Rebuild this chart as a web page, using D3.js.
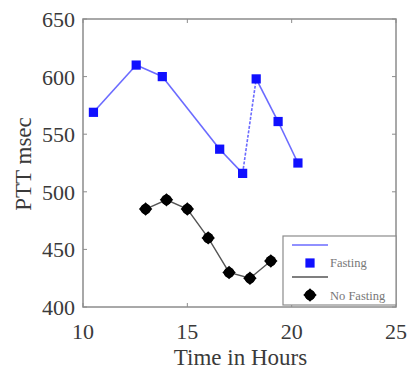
<!DOCTYPE html>
<html>
<head>
<meta charset="utf-8">
<script src="https://cdn.jsdelivr.net/npm/d3@7"></script>
<style>
  html, body { margin: 0; padding: 0; background: #fff; }
  svg { display: block; }
</style>
</head>
<body>
<svg id="chart" width="410" height="374"></svg>
<script>
// Pulse transit time over the day, fasting vs. non-fasting
const fastingHours = [10.5, 12.55, 13.8, 16.55, 17.65, 18.3, 19.35, 20.3];
const fastingPTT   = [569, 610, 600, 537, 516, 598, 561, 525];
const noFastHours  = [13, 14, 15, 16, 17, 18, 19];
const noFastPTT    = [485, 493, 485, 460, 430, 425, 440];
const xTicks = [10, 15, 20, 25];
const yTicks = [400, 450, 500, 550, 600, 650];
const seriesNames = ["Fasting", "No Fasting"];

const svg = d3.select("#chart");
const plotL = 83, plotR = 396, plotT = 19, plotB = 307;

const x = d3.scaleLinear().domain([10, 25]).range([plotL, plotR]);
const y = d3.scaleLinear().domain([400, 650]).range([plotB, plotT]);

const font = "'Liberation Serif', 'Times New Roman', serif";
const axisColor = "#8c8c8c";
const textColor = "#3a3a3a";
const blueLine = "#6b6bff";

// Box with inward ticks on all four sides
const tickLen = 4;
const axisG = svg.append("g");
axisG.append("rect")
  .attr("x", plotL).attr("y", plotT)
  .attr("width", plotR - plotL).attr("height", plotB - plotT)
  .attr("fill", "none").attr("stroke", axisColor).attr("stroke-width", 1.5);

xTicks.forEach(t => {
  axisG.append("line").attr("x1", x(t)).attr("x2", x(t))
    .attr("y1", plotB).attr("y2", plotB - tickLen)
    .attr("stroke", axisColor).attr("stroke-width", 1);
  axisG.append("line").attr("x1", x(t)).attr("x2", x(t))
    .attr("y1", plotT).attr("y2", plotT + tickLen)
    .attr("stroke", axisColor).attr("stroke-width", 1);
  axisG.append("text").attr("x", x(t)).attr("y", plotB + 32)
    .attr("text-anchor", "middle")
    .attr("font-family", font).attr("font-size", 22)
    .attr("fill", textColor).text(t);
});

yTicks.forEach(t => {
  axisG.append("line").attr("x1", plotL).attr("x2", plotL + tickLen)
    .attr("y1", y(t)).attr("y2", y(t))
    .attr("stroke", axisColor).attr("stroke-width", 1);
  axisG.append("line").attr("x1", plotR).attr("x2", plotR - tickLen)
    .attr("y1", y(t)).attr("y2", y(t))
    .attr("stroke", axisColor).attr("stroke-width", 1);
  axisG.append("text").attr("x", plotL - 8).attr("y", y(t) + 8)
    .attr("text-anchor", "end")
    .attr("font-family", font).attr("font-size", 22)
    .attr("fill", textColor).text(t);
});

svg.append("text")
  .attr("x", (plotL + plotR) / 2 + 1).attr("y", 365)
  .attr("text-anchor", "middle")
  .attr("font-family", font).attr("font-size", 23)
  .attr("fill", textColor).text("Time in Hours");

svg.append("text")
  .attr("transform", `translate(31, ${(plotT + plotB) / 2 + 1}) rotate(-90)`)
  .attr("text-anchor", "middle")
  .attr("font-family", font).attr("font-size", 23)
  .attr("fill", textColor).text("PTT msec");

// Marker shapes
const squareMark = d3.symbol().type(d3.symbolSquare).size(85);
const diamondMark = d3.symbol().type(d3.symbolSquare).size(90);

function drawBlack(g, cx, cy) {
  g.append("path").attr("d", diamondMark())
    .attr("transform", `translate(${cx},${cy}) rotate(45)`).attr("fill", "#000");
  g.append("circle").attr("cx", cx).attr("cy", cy).attr("r", 5.3).attr("fill", "#000");
}

function drawBlue(g, cx, cy) {
  g.append("path").attr("d", squareMark())
    .attr("transform", `translate(${cx},${cy})`).attr("fill", "#1010ff");
}

const line = d3.line().x(d => x(d[0])).y(d => y(d[1]));

// Fasting series: the jump from 17.65 h to 18.3 h is drawn dashed
const fasting = fastingHours.map((h, i) => [h, fastingPTT[i]]);
const fSeg = svg.append("g");
d3.pairs(fasting).forEach((p, i) => {
  fSeg.append("path").datum(p)
    .attr("d", line).attr("fill", "none")
    .attr("stroke", blueLine).attr("stroke-width", 1.6)
    .attr("stroke-dasharray", i === 4 ? "3,1.5" : null);
});
const fg = svg.append("g");
fasting.forEach(d => drawBlue(fg, x(d[0]), y(d[1])));

// No-fasting series
const noFast = noFastHours.map((h, i) => [h, noFastPTT[i]]);
svg.append("path").datum(noFast)
  .attr("d", line).attr("fill", "none")
  .attr("stroke", "#555").attr("stroke-width", 1.4);
const ng = svg.append("g");
noFast.forEach(d => drawBlack(ng, x(d[0]), y(d[1])));

// Legend
const lg = svg.append("g");
lg.append("rect").attr("x", 283).attr("y", 236).attr("width", 113).attr("height", 69)
  .attr("fill", "#fff").attr("stroke", axisColor).attr("stroke-width", 1.2);
lg.append("line").attr("x1", 292).attr("x2", 328).attr("y1", 245).attr("y2", 245)
  .attr("stroke", blueLine).attr("stroke-width", 1.5);
drawBlue(lg, 310, 263);
lg.append("text").attr("x", 330).attr("y", 267)
  .attr("font-family", font).attr("font-size", 12.5).attr("fill", "#777").text(seriesNames[0]);
lg.append("line").attr("x1", 292).attr("x2", 328).attr("y1", 277).attr("y2", 277)
  .attr("stroke", "#555").attr("stroke-width", 1.4);
drawBlack(lg, 310, 295);
lg.append("text").attr("x", 330).attr("y", 300)
  .attr("font-family", font).attr("font-size", 12.5).attr("fill", "#777").text(seriesNames[1]);
</script>
</body>
</html>
